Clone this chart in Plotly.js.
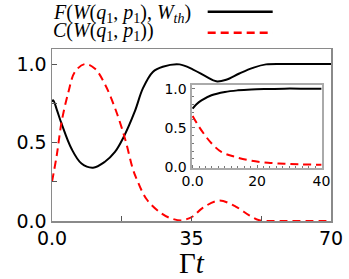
<!DOCTYPE html>
<html>
<head>
<meta charset="utf-8">
<script src="https://cdn.plot.ly/plotly-3.0.1.min.js"></script>
<style>html,body{margin:0;padding:0;background:#fff;}#chart{width:349px;height:279px;}</style>
</head>
<body>
<div id="chart"></div>
<script>
// Main panel: time (Γt) and the two quantities
const tMain = [0, 0.3, 1.2, 2.4, 4.9, 7.4, 10.3, 13.2, 15.8, 17.8, 20.8, 22.8, 25.3, 27.8, 32, 35.4, 38.7, 41.2, 43.7, 47, 50.4, 53.7, 60, 70];
const fMain = [0.76, 0.77, 0.71, 0.62, 0.46, 0.366, 0.34, 0.376, 0.44, 0.526, 0.70, 0.845, 0.95, 0.983, 0.998, 0.965, 0.92, 0.89, 0.90, 0.94, 0.976, 0.998, 1.0, 1.0];
const tMainC = [0, 1.2, 2.4, 4.1, 5.75, 8.25, 10.8, 13.3, 15.8, 18.3, 20.3, 21.2, 23.7, 27, 29.5, 32.5, 34.5, 35.4, 37.9, 42, 46.2, 49.5, 52, 55, 60, 70];
const cMain = [0.25, 0.42, 0.63, 0.82, 0.95, 1.0, 0.97, 0.87, 0.72, 0.526, 0.33, 0.27, 0.14, 0.057, 0.02, 0.004, 0.018, 0.03, 0.085, 0.13, 0.09, 0.036, 0.005, 0, 0, 0];
// Inset panel
const tInset = [0, 1.2, 2.75, 5.85, 10, 14, 18.2, 23.4, 28.5, 33.6, 40];
const fInset = [0.745, 0.80, 0.85, 0.915, 0.957, 0.978, 0.99, 0.996, 1.0, 1.0, 1.0];
const tInsetC = [0, 1.7, 3.8, 5.85, 8.9, 13, 18.2, 23.4, 28.5, 33.6, 40];
const cInset = [0.65, 0.53, 0.405, 0.30, 0.19, 0.128, 0.077, 0.051, 0.038, 0.03, 0.025];
// Tick labels
const xMainTicks = [0, 35, 70];
const xMainTickText = ['0.0', '35', '70'];
const xInsetTicks = [0, 20, 40];
const xInsetTickText = ['0.0', '20', '40'];
const seriesNames = [
  '<i>F</i>(<i>W</i>(<i>q</i><sub>1</sub>, <i>p</i><sub>1</sub>), <i>W</i><sub><i>th</i></sub>)',
  '<i>C</i>(<i>W</i>(<i>q</i><sub>1</sub>, <i>p</i><sub>1</sub>))'
];

const grey = '#8a8a8a';
const tickFont = {family: 'DejaVu Sans', size: 19, color: '#000'};
const insetFont = {family: 'DejaVu Sans', size: 14, color: '#000'};
const redDash = '8px,5px';

const traces = [
  {x: tMain, y: fMain, name: seriesNames[0], type: 'scatter', mode: 'lines', line: {color: '#000', width: 2, shape: 'spline'}, xaxis: 'x', yaxis: 'y', showlegend: false},
  {x: tMainC, y: cMain, name: seriesNames[1], type: 'scatter', mode: 'lines', line: {color: '#ff0000', width: 2, dash: redDash, shape: 'spline'}, xaxis: 'x', yaxis: 'y', showlegend: false},
  {x: tInset, y: fInset, name: seriesNames[0], type: 'scatter', mode: 'lines', line: {color: '#000', width: 2, shape: 'spline'}, xaxis: 'x2', yaxis: 'y2', showlegend: false},
  {x: tInsetC, y: cInset, name: seriesNames[1], type: 'scatter', mode: 'lines', line: {color: '#ff0000', width: 2, dash: redDash, shape: 'spline'}, xaxis: 'x2', yaxis: 'y2', showlegend: false}
];

const layout = {
  width: 349, height: 279,
  margin: {l: 52, r: 17.5, t: 49, b: 58},
  paper_bgcolor: '#fff', plot_bgcolor: '#fff',
  showlegend: false,
  xaxis: {
    domain: [0, 1], range: [0, 70], tickmode: 'array', tickvals: xMainTicks, ticktext: xMainTickText,
    ticks: 'inside', ticklen: 5, tickwidth: 1, tickcolor: '#555',
    minor: {dtick: 17.5, tick0: 0, ticks: 'inside', ticklen: 5, tickwidth: 1, tickcolor: '#555', showgrid: false},
    showline: true, mirror: true, linecolor: grey, linewidth: 1.5, showgrid: false, zeroline: false,
    tickfont: tickFont,
    title: {text: 'Γ<i>t</i>', font: {family: 'Liberation Serif', size: 29, color: '#000'}, standoff: 6}
  },
  yaxis: {
    domain: [0, 1], range: [0, 1.096], dtick: 0.5, tick0: 0, tickformat: '.1f',
    ticks: 'inside', ticklen: 5, tickwidth: 1, tickcolor: '#555',
    minor: {dtick: 0.25, tick0: 0, ticks: 'inside', ticklen: 5, tickwidth: 1, tickcolor: '#555', showgrid: false},
    showline: true, mirror: true, linecolor: grey, linewidth: 1.5, showgrid: false, zeroline: false,
    tickfont: tickFont
  },
  xaxis2: {
    domain: [0.5, 0.967], anchor: 'y2', range: [-0.35, 40.1], tickmode: 'array', tickvals: xInsetTicks, ticktext: xInsetTickText,
    ticks: 'inside', ticklen: 3, tickwidth: 1, tickcolor: '#777',
    minor: {dtick: 2, tick0: 0, ticks: 'inside', ticklen: 2, tickwidth: 1, tickcolor: '#777', showgrid: false},
    showline: true, mirror: true, linecolor: '#aaa', linewidth: 2, showgrid: false, zeroline: false,
    tickfont: insetFont
  },
  yaxis2: {
    domain: [0.311, 0.790], anchor: 'x2', range: [-0.01, 1.045], dtick: 0.5, tick0: 0, tickformat: '.1f',
    ticks: 'inside', ticklen: 3, tickwidth: 1, tickcolor: '#777',
    minor: {dtick: 0.1, tick0: 0, ticks: 'inside', ticklen: 2, tickwidth: 1, tickcolor: '#777', showgrid: false},
    showline: true, mirror: true, linecolor: '#aaa', linewidth: 2, showgrid: false, zeroline: false,
    tickfont: insetFont
  },
  annotations: [
    {xref: 'paper', yref: 'paper', x: -0.005, y: 1.205, xanchor: 'left', yanchor: 'middle', showarrow: false,
     text: seriesNames[0], font: {family: 'Liberation Serif', size: 20, color: '#000'}},
    {xref: 'paper', yref: 'paper', x: -0.005, y: 1.1, xanchor: 'left', yanchor: 'middle', showarrow: false,
     text: seriesNames[1], font: {family: 'Liberation Serif', size: 20, color: '#000'}}
  ],
  shapes: [
    {type: 'line', xref: 'paper', yref: 'paper', x0: 0.558, x1: 0.791, y0: 1.217, y1: 1.217, line: {color: '#000', width: 2.5}},
    {type: 'line', xref: 'paper', yref: 'paper', x0: 0.558, x1: 0.791, y0: 1.095, y1: 1.095, line: {color: '#ff0000', width: 2.5, dash: redDash}}
  ]
};

Plotly.newPlot('chart', traces, layout, {displayModeBar: false, staticPlot: true});
</script>
</body>
</html>
